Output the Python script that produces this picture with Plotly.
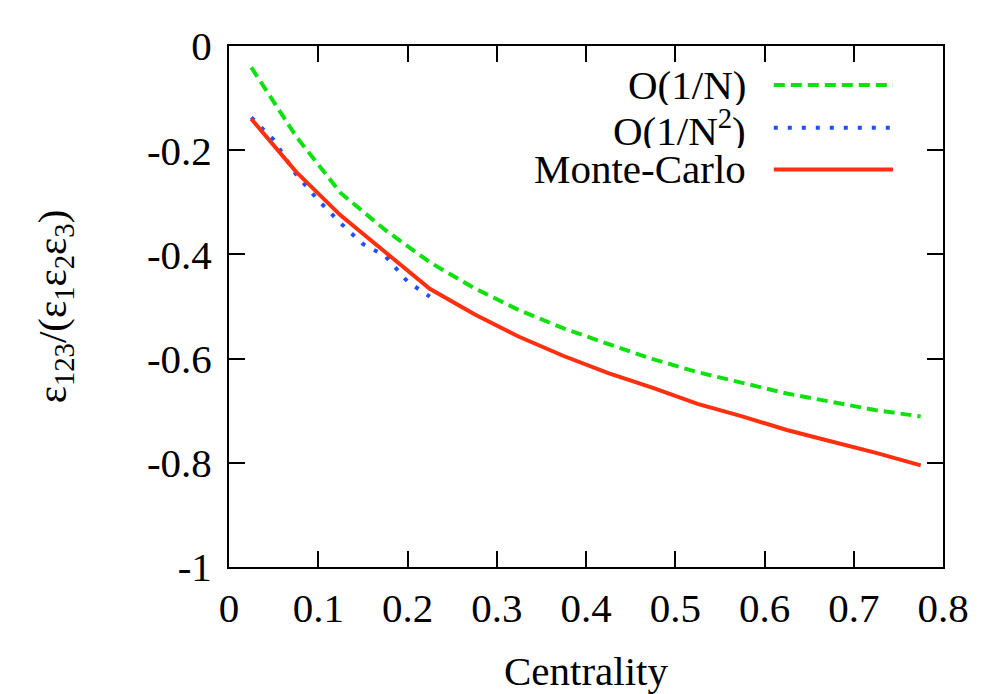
import plotly.graph_objects as go

# Data
centrality = [0.025, 0.075, 0.125, 0.175, 0.225, 0.275, 0.325, 0.375,
              0.425, 0.475, 0.525, 0.575, 0.625, 0.675, 0.725, 0.775]
order1 = [-0.041, -0.173, -0.282, -0.353, -0.415, -0.465, -0.507, -0.542,
          -0.572, -0.601, -0.626, -0.647, -0.667, -0.683, -0.699, -0.711]
monte_carlo = [-0.140, -0.241, -0.325, -0.395, -0.466, -0.515, -0.558, -0.595,
               -0.628, -0.656, -0.687, -0.711, -0.737, -0.759, -0.781, -0.805]
centrality_o2 = [0.025, 0.05, 0.075, 0.1, 0.125, 0.15, 0.175, 0.2, 0.225]
order2 = [-0.137, -0.180, -0.246, -0.296, -0.340, -0.380, -0.403, -0.452, -0.481]

x_ticks = [0, 0.1, 0.2, 0.3, 0.4, 0.5, 0.6, 0.7, 0.8]
x_tick_text = ["0", "0.1", "0.2", "0.3", "0.4", "0.5", "0.6", "0.7", "0.8"]
y_ticks = [0, -0.2, -0.4, -0.6, -0.8, -1]
y_tick_text = ["0", "-0.2", "-0.4", "-0.6", "-0.8", "-1"]

legend_names = ["O(1/N)", "O(1/N<sup>2</sup>)", "Monte-Carlo"]
GREEN, BLUE, RED = "#10e010", "#1f50ff", "#ff3010"
FONT = "Liberation Serif, Times New Roman, DejaVu Serif, serif"
FS = 41

fig = go.Figure()
fig.add_trace(go.Scatter(x=centrality, y=order1, mode="lines",
                         line=dict(color=GREEN, width=4, dash="11px,6px"),
                         showlegend=False))
fig.add_trace(go.Scatter(x=centrality_o2, y=order2, mode="lines",
                         line=dict(color=BLUE, width=4, dash="4px,10px"),
                         showlegend=False))
fig.add_trace(go.Scatter(x=centrality, y=monte_carlo, mode="lines",
                         line=dict(color=RED, width=4),
                         showlegend=False))

# Manual legend (text left of sample line, gnuplot style)
legend_styles = [dict(color=GREEN, width=4, dash="11px,6px"),
                 dict(color=BLUE, width=4, dash="4px,10px"),
                 dict(color=RED, width=4)]
legend_y = [0.925, 0.843, 0.763]
for name, style, ly in zip(legend_names, legend_styles, legend_y):
    fig.add_annotation(x=0.727, y=ly, xref="paper", yref="paper",
                       text=name, showarrow=False, xanchor="right",
                       yanchor="middle", height=40, valign="middle",
                       font=dict(family=FONT, size=FS, color="black"))
    fig.add_shape(type="line", xref="paper", yref="paper",
                  x0=0.763, x1=0.930, y0=ly, y1=ly, line=style)

axis_common = dict(showline=True, linecolor="black", linewidth=2, mirror="ticks",
                   ticks="inside", ticklen=16, tickwidth=2, tickcolor="black",
                   showgrid=False, zeroline=False,
                   tickfont=dict(family=FONT, size=FS, color="black"))

fig.update_xaxes(range=[0, 0.8], tickvals=x_ticks, ticktext=x_tick_text,
                 ticklabelstandoff=4,
                 title=dict(text="Centrality", font=dict(family=FONT, size=FS, color="black"),
                            standoff=26),
                 **axis_common)
fig.update_yaxes(range=[-1, 0], tickvals=y_ticks, ticktext=y_tick_text,
                 ticklabelstandoff=7,
                 title=dict(text="ε<sub>123</sub>/(ε<sub>1</sub>ε<sub>2</sub>ε<sub>3</sub>)",
                            font=dict(family=FONT, size=FS, color="black"),
                            standoff=68),
                 **axis_common)

fig.update_layout(width=977, height=686,
                  margin=dict(l=221, r=42, t=38, b=127, autoexpand=False),
                  paper_bgcolor="white", plot_bgcolor="white",
                  font=dict(family=FONT, size=FS, color="black"))

fig.write_html("out.html")
